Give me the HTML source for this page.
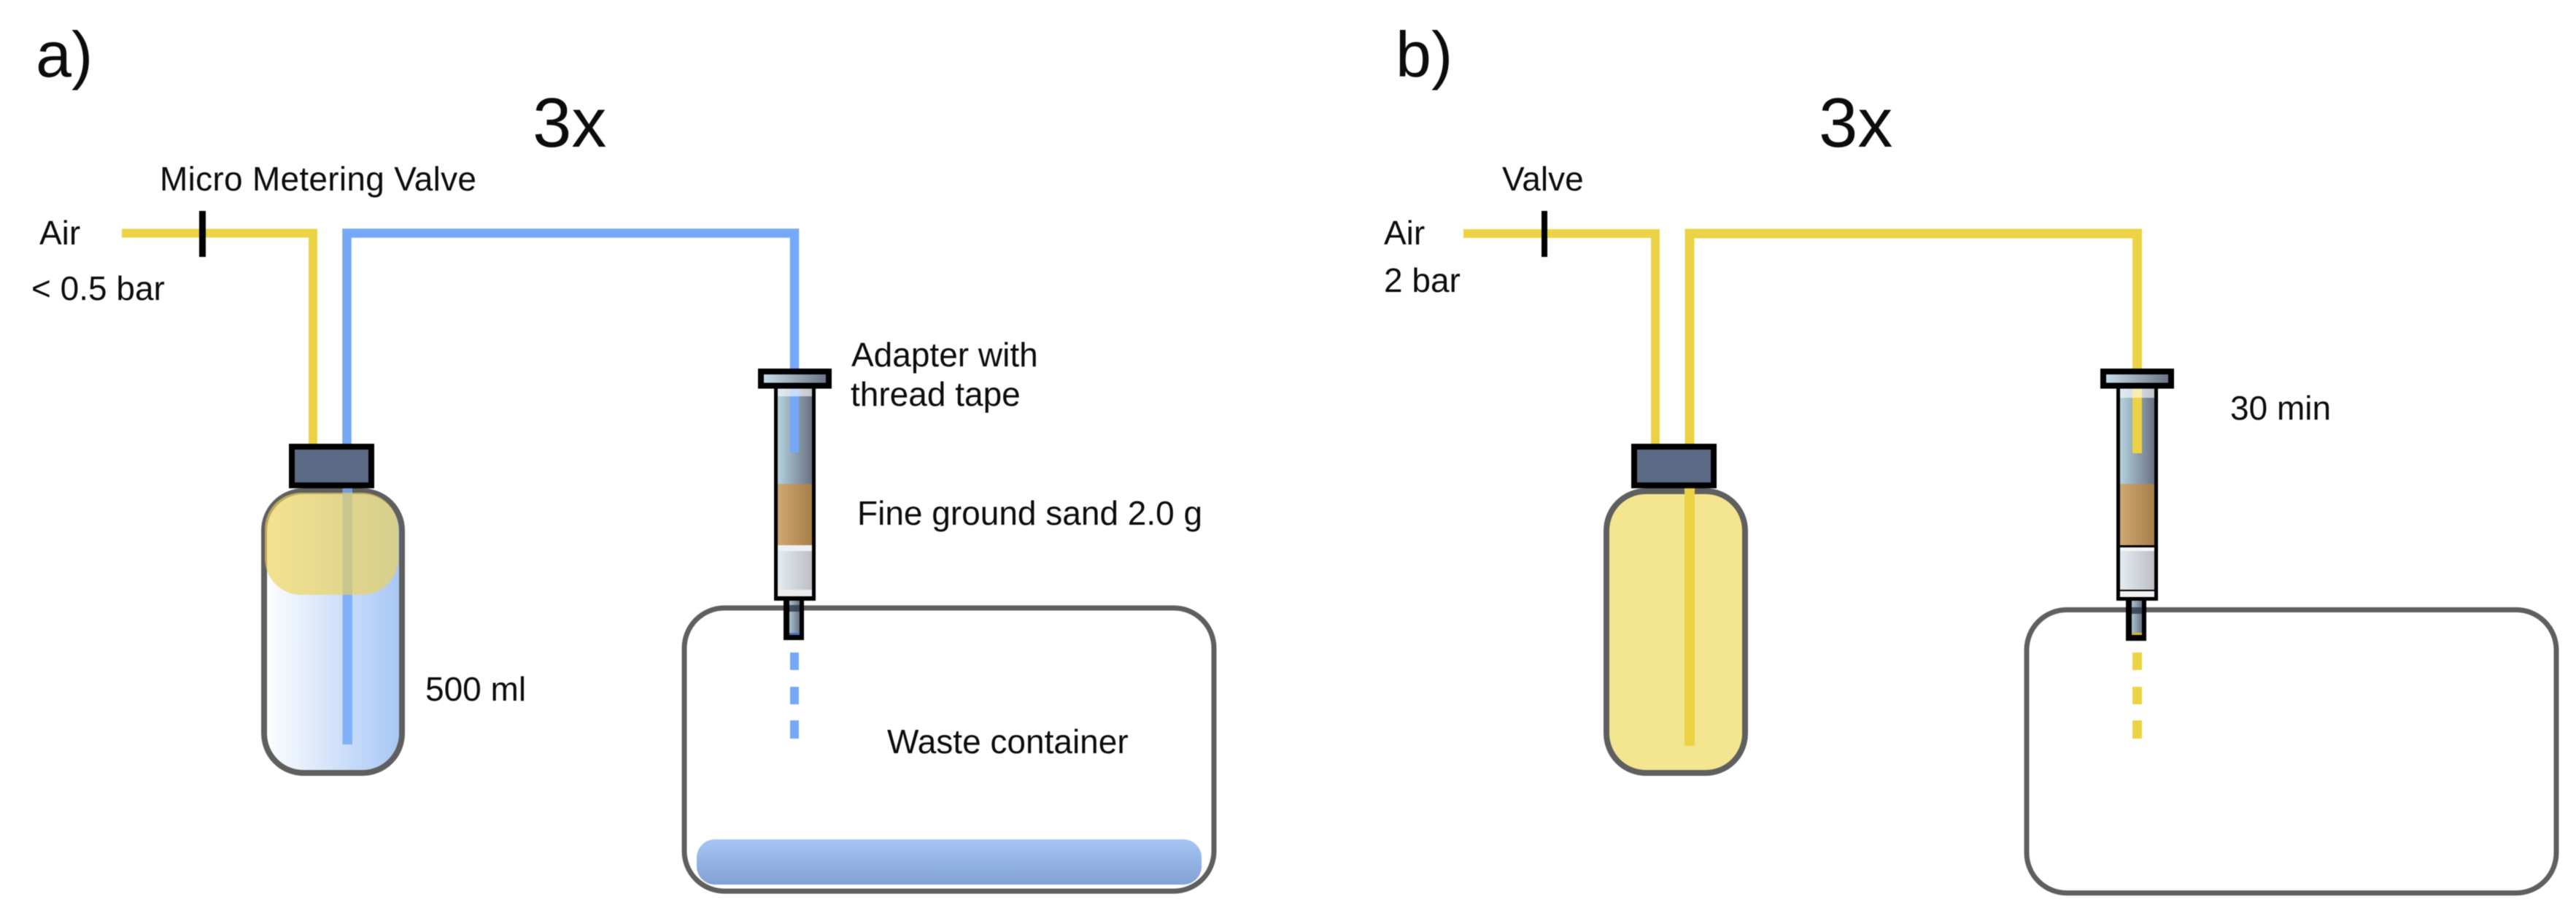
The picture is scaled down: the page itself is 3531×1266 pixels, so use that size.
<!DOCTYPE html>
<html>
<head>
<meta charset="utf-8">
<style>
html,body{margin:0;padding:0;background:#fff;width:3531px;height:1266px;overflow:hidden}
svg{display:block;filter:blur(0.6px)}
text{font-family:"Liberation Sans",Arial,sans-serif;font-size:46px;fill:#0c0c0c}
.big{font-size:88px}
.big3{font-size:96px}
</style>
</head>
<body>
<svg xmlns="http://www.w3.org/2000/svg" width="3531" height="1266" viewBox="0 0 3531 1266">
<defs>
<linearGradient id="gPlate" x1="0" x2="1" y1="0" y2="0"><stop offset="0" stop-color="#c8e2ec"/><stop offset="1" stop-color="#6a7084"/></linearGradient>
<linearGradient id="gBarrel" x1="0" x2="1" y1="0" y2="0"><stop offset="0" stop-color="#b4d2df"/><stop offset="1" stop-color="#6b7285"/></linearGradient>
<linearGradient id="gSand" x1="0" x2="1" y1="0" y2="0"><stop offset="0" stop-color="#cfa872"/><stop offset="1" stop-color="#a67f4a"/></linearGradient>
<linearGradient id="gPlunger" x1="0" x2="1" y1="0" y2="0"><stop offset="0" stop-color="#e4ebf2"/><stop offset="1" stop-color="#bdbfc5"/></linearGradient>
<linearGradient id="gNozzle" x1="0" x2="1" y1="0" y2="0"><stop offset="0" stop-color="#a9c5d2"/><stop offset="1" stop-color="#6c7486"/></linearGradient>
<linearGradient id="gBottle" x1="0" x2="1" y1="0" y2="0"><stop offset="0" stop-color="#ffffff"/><stop offset="1" stop-color="#a6c6f5"/></linearGradient>
<linearGradient id="gWaste" x1="0" x2="0" y1="0" y2="1"><stop offset="0" stop-color="#a6c5f4"/><stop offset="1" stop-color="#82a1d5"/></linearGradient>
</defs>

<!-- ========== Panel a ========== -->
<path d="M167 319.5H429V610" fill="none" stroke="#ecd345" stroke-width="12"/>
<path d="M475.5 610V319.5H1089V510" fill="none" stroke="#76a8f8" stroke-width="12.5"/>
<rect x="273" y="289" width="9" height="63" fill="#000"/>

<!-- bottle a -->
<rect x="362" y="673" width="189" height="386" rx="54" ry="54" fill="url(#gBottle)" stroke="#5f5f5f" stroke-width="8"/>
<rect x="469.5" y="664" width="13.5" height="356" fill="#76a8f8" opacity=".85"/>
<rect x="363" y="675" width="183" height="140" rx="50" ry="50" fill="#eed354" opacity=".65"/>
<rect x="400" y="612" width="109" height="53" fill="#5c6b85" stroke="#000" stroke-width="8"/>

<!-- container a -->
<rect x="938" y="833" width="726" height="388" rx="55" ry="55" fill="#fff" stroke="#5f5f5f" stroke-width="7"/>
<rect x="955" y="1150" width="692" height="62" rx="25" ry="25" fill="url(#gWaste)"/>

<!-- syringe a -->
<rect x="1061" y="528" width="57" height="295" fill="#000"/>
<rect x="1066" y="530" width="47" height="133" fill="url(#gBarrel)"/>
<rect x="1083" y="505" width="12" height="115" fill="#76a8f8"/>
<rect x="1066" y="530" width="47" height="13" fill="#fff" opacity=".6"/>
<rect x="1066" y="663" width="47" height="84" fill="url(#gSand)"/>
<rect x="1066" y="747" width="47" height="8" fill="#eef0f3"/>
<rect x="1066" y="755" width="47" height="53" fill="url(#gPlunger)"/>
<rect x="1066" y="808" width="47" height="9" fill="#ececec"/>
<rect x="1043" y="509" width="93" height="19.5" fill="url(#gPlate)" stroke="#000" stroke-width="8"/>
<rect x="1074" y="823" width="28" height="54" fill="#000"/>
<rect x="1082" y="823" width="14" height="47" fill="url(#gNozzle)"/>
<rect x="1082" y="829" width="14" height="9" fill="#2f3644" opacity=".8"/>
<rect x="1082" y="867" width="14" height="3" fill="#4a74c0"/>
<rect x="1083" y="894" width="12" height="24" fill="#76a8f8"/>
<rect x="1083" y="941" width="12" height="24" fill="#76a8f8"/>
<rect x="1083" y="987" width="12" height="25" fill="#76a8f8"/>

<text class="big" x="49" y="105">a)</text>
<text class="big3" x="730" y="201">3x</text>
<text x="219" y="261" textLength="434">Micro Metering Valve</text>
<text x="54" y="335">Air</text>
<text x="43" y="411">&lt; 0.5 bar</text>
<text x="583" y="960">500 ml</text>
<text x="1167" y="502">Adapter with</text>
<text x="1166" y="556">thread tape</text>
<text x="1175" y="719">Fine ground sand 2.0 g</text>
<text x="1216" y="1032">Waste container</text>

<!-- ========== Panel b ========== -->
<path d="M2006 320H2269V610" fill="none" stroke="#ecd345" stroke-width="12"/>
<path d="M2316 610V320H2929.5V510" fill="none" stroke="#ecd345" stroke-width="13"/>
<rect x="2113" y="289" width="8" height="63" fill="#000"/>

<!-- bottle b -->
<rect x="2202" y="673" width="190" height="386" rx="54" ry="54" fill="#f4e591" stroke="#5f5f5f" stroke-width="8"/>
<rect x="2309" y="664" width="14" height="358" fill="#ecd345"/>
<rect x="2240" y="612" width="109" height="53" fill="#5c6b85" stroke="#000" stroke-width="8"/>

<!-- container b -->
<rect x="2778" y="835.5" width="726" height="388" rx="55" ry="55" fill="#fff" stroke="#5f5f5f" stroke-width="7"/>

<!-- syringe b -->
<rect x="2901" y="528" width="57" height="295" fill="#000"/>
<rect x="2906" y="530" width="47" height="133" fill="url(#gBarrel)"/>
<rect x="2923" y="505" width="13" height="116" fill="#ecd345"/>
<rect x="2906" y="531" width="47" height="14" fill="#fff" opacity=".6"/>
<rect x="2906" y="663" width="47" height="84" fill="url(#gSand)"/>
<rect x="2906" y="750" width="47" height="6" fill="#f5f5f5"/>
<rect x="2906" y="755" width="47" height="53" fill="url(#gPlunger)"/>
<rect x="2906" y="810" width="47" height="8" fill="#f2f2f2"/>
<rect x="2883" y="509" width="93" height="19.5" fill="url(#gPlate)" stroke="#000" stroke-width="8"/>
<rect x="2914" y="823" width="28" height="55" fill="#000"/>
<rect x="2922" y="823" width="14" height="47" fill="url(#gNozzle)"/>
<rect x="2922" y="832" width="14" height="9" fill="#2f3644" opacity=".8"/>
<rect x="2922" y="867" width="14" height="3" fill="#d9b92e"/>
<rect x="2923" y="894" width="13" height="24" fill="#ecd345"/>
<rect x="2923" y="941" width="13" height="24" fill="#ecd345"/>
<rect x="2923" y="987" width="13" height="25" fill="#ecd345"/>

<text class="big" x="1913" y="105">b)</text>
<text class="big3" x="2493" y="201">3x</text>
<text x="2059" y="261">Valve</text>
<text x="1897" y="335">Air</text>
<text x="1897" y="400">2 bar</text>
<text x="3057" y="575">30 min</text>
</svg>
</body>
</html>
